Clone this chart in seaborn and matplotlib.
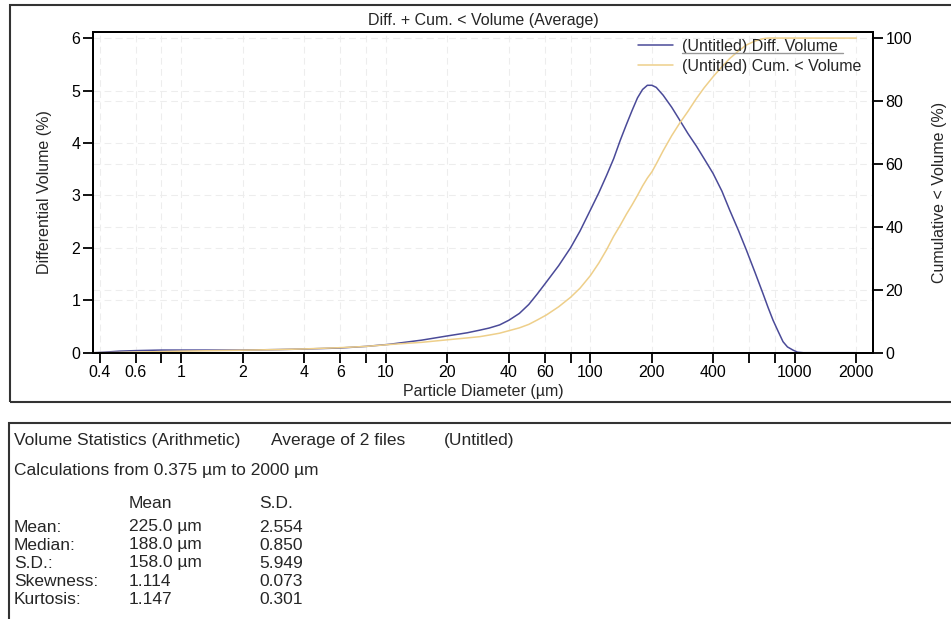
import matplotlib
matplotlib.use("Agg")
import matplotlib.pyplot as plt
import seaborn as sns
import numpy as np
import pandas as pd
from matplotlib.patches import Rectangle
from matplotlib.lines import Line2D

# ---------------- data ----------------
diameter = [0.375, 0.42, 0.5, 0.6, 0.8, 1, 1.6, 2, 3, 4, 6, 8, 10.4, 15, 20, 25, 28.8,
            32, 36, 40, 45, 50, 55, 61, 70, 80, 89, 100, 110, 120, 130, 140, 150, 160,
            170, 180, 190, 200, 210, 227, 250, 273, 300, 330, 360, 398, 440, 480, 530,
            579, 640, 698, 740, 782, 830, 875, 920, 979, 1030, 1100, 1300, 1600, 2000]
diff_volume = [0.00, 0.01, 0.03, 0.04, 0.05, 0.05, 0.05, 0.05, 0.06, 0.07, 0.09, 0.12,
               0.16, 0.24, 0.32, 0.38, 0.43, 0.47, 0.53, 0.62, 0.75, 0.92, 1.12, 1.35,
               1.66, 2.00, 2.32, 2.72, 3.05, 3.38, 3.70, 4.05, 4.35, 4.62, 4.86, 5.02,
               5.10, 5.10, 5.06, 4.91, 4.68, 4.44, 4.18, 3.94, 3.70, 3.42, 3.08, 2.72,
               2.33, 1.96, 1.52, 1.13, 0.86, 0.62, 0.40, 0.21, 0.11, 0.05, 0.01, 0.0,
               0.0, 0.0, 0.0]
cum_volume = [0.0, 0.02, 0.1, 0.2, 0.35, 0.5, 0.7, 0.8, 1.0, 1.2, 1.6, 2.0, 2.6, 3.3,
              4.1, 4.7, 5.1, 5.6, 6.2, 7.0, 7.9, 9.0, 10.4, 12.0, 14.6, 17.6, 20.5, 24.5,
              28.5, 32.7, 37.0, 40.5, 44.0, 47.0, 50.0, 53.0, 55.5, 57.5, 60.0, 64.2,
              69.0, 72.9, 76.7, 80.8, 84.2, 87.7, 90.9, 93.5, 95.9, 97.8, 99.1, 99.8,
              100, 100, 100, 100, 100, 100, 100, 100, 100, 100, 100]

x_ticks = [0.4, 0.6, 0.8, 1, 2, 4, 6, 8, 10, 20, 40, 60, 80, 100, 200, 400, 600, 800, 1000, 2000]
x_ticklabels = ["0.4", "0.6", "", "1", "2", "4", "6", "", "10", "20", "40", "60", "",
                "100", "200", "400", "", "", "1000", "2000"]
left_ticks = [0, 1, 2, 3, 4, 5, 6]
right_ticks = [0, 20, 40, 60, 80, 100]

series_names = ["(Untitled) Diff. Volume", "(Untitled) Cum. < Volume"]
stats_rows = ["Mean:", "Median:", "S.D.:", "Skewness:", "Kurtosis:"]
stats_mean = ["225.0 µm", "188.0 µm", "158.0 µm", "1.114", "1.147"]
stats_sd = ["2.554", "0.850", "5.949", "0.073", "0.301"]

df = pd.DataFrame({"d": diameter, "diff": diff_volume, "cum": cum_volume})

# ---------------- style ----------------
sns.set_style("white")
plt.rcParams["font.family"] = ["Liberation Sans", "DejaVu Sans"]
FS = 11.5

W, H = 951, 619
fig = plt.figure(figsize=(W / 100, H / 100), dpi=100)

def fx(px):
    return px / W

def fy(py):
    return 1 - py / H

ax_l, ax_r, ax_t, ax_b = 93, 873, 32, 352.7
ax = fig.add_axes([fx(ax_l), fy(ax_b), fx(ax_r - ax_l), (ax_b - ax_t) / H])
ax2 = ax.twinx()

blue = "#4a4a98"
orange = "#eecf8a"

sns.lineplot(data=df, x="d", y="diff", ax=ax, color=blue, linewidth=1.1, legend=False)
sns.lineplot(data=df, x="d", y="cum", ax=ax2, color=orange, linewidth=1.1, legend=False)

ax.set_xscale("log")
ax.set_xlim(0.37, 2410)
ymax = 6 * (ax_b - ax_t) / (ax_b - 38.1)
ax.set_ylim(0, ymax)
ax2.set_ylim(0, ymax * 100 / 6)

ax.set_xticks(x_ticks)
ax.set_xticklabels(x_ticklabels)
ax.xaxis.set_minor_locator(matplotlib.ticker.NullLocator())
ax.set_yticks(left_ticks)
ax.set_yticklabels([str(t) for t in left_ticks])
ax2.set_yticks(right_ticks)
ax2.set_yticklabels([str(t) for t in right_ticks])

for a in (ax, ax2):
    a.tick_params(axis="both", which="major", direction="out", length=7, width=1.3,
                  labelsize=FS, color="black", labelcolor="black", pad=2)
    for s in a.spines.values():
        s.set_color("black")
        s.set_linewidth(1.4)
ax.tick_params(axis="y", left=True, right=False)
ax.tick_params(axis="x", bottom=True, top=False)
ax2.tick_params(axis="y", right=True, left=False)

# faint dashed grid (all drawn on the bottom axes, beneath both curves)
grid_kw = dict(color="#ededed", linewidth=0.8, linestyle=(0, (6, 4)), zorder=0)
for t in x_ticks:
    ax.axvline(t, **grid_kw)
for t in left_ticks:
    ax.axhline(t, **grid_kw)
for t in right_ticks:
    ax.axhline(t * 6 / 100, **grid_kw)

ax.set_xlabel("Particle Diameter (µm)", fontsize=FS, labelpad=3)
ax.set_ylabel("Differential Volume (%)", fontsize=FS, labelpad=14)
ax2.set_ylabel("Cumulative < Volume (%)", fontsize=FS, labelpad=14)
ax.set_title("Diff. + Cum. < Volume (Average)", fontsize=FS, pad=5)

handles = [Line2D([], [], color=blue, linewidth=1.1), Line2D([], [], color=orange, linewidth=1.1)]
leg = ax2.legend(handles, series_names, loc="upper right", frameon=False, fontsize=FS,
                 handlelength=2.2, handletextpad=0.55, labelspacing=0.31,
                 borderaxespad=0.0, bbox_to_anchor=(0.993, 0.9995))

# underline below the first legend entry
fig.add_artist(Line2D([fx(682), fx(843)], [fy(52.5), fy(52.5)], color="#999999", linewidth=1.0))

# panel boxes
fig.add_artist(Rectangle((fx(10), fy(402)), fx(960 - 10), (402 - 5) / H, fill=False,
                         edgecolor="#333333", linewidth=1.5))
fig.add_artist(Rectangle((fx(9), fy(640)), fx(960 - 9), (640 - 423) / H, fill=False,
                         edgecolor="#333333", linewidth=1.5))

# statistics table
SF = 12.5
fig.text(fx(14), fy(440), "Volume Statistics (Arithmetic)", fontsize=SF, va="center")
fig.text(fx(271), fy(440), "Average of 2 files", fontsize=SF, va="center")
fig.text(fx(444), fy(440), "(Untitled)", fontsize=SF, va="center")
fig.text(fx(14), fy(471), "Calculations from 0.375 µm to 2000 µm", fontsize=SF, va="center")
fig.text(fx(129), fy(503), "Mean", fontsize=SF, va="center")
fig.text(fx(259), fy(503), "S.D.", fontsize=SF, va="center")
row_y = [527, 545, 563, 581, 599]
for yy, lab, m, s in zip(row_y, stats_rows, stats_mean, stats_sd):
    fig.text(fx(14), fy(yy), lab, fontsize=SF, va="center")
    fig.text(fx(129), fy(yy), m, fontsize=SF, va="center")
    fig.text(fx(259), fy(yy), s, fontsize=SF, va="center")

fig.savefig("out.png", dpi=100)
